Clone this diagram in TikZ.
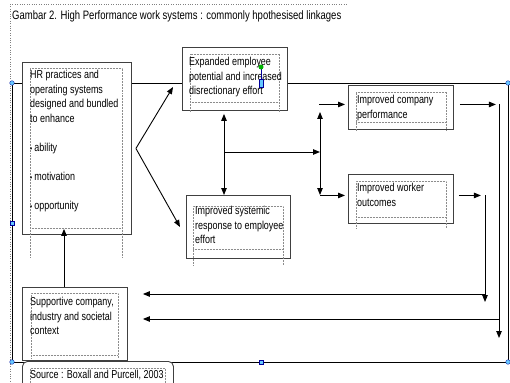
\documentclass[tikz,border=0pt]{standalone}
\usepackage{fontspec}
\setmainfont{Liberation Sans}[FakeStretch=0.78]
\usetikzlibrary{arrows.meta,positioning}

\tikzset{
	boxframe/.style={draw=black!75, line width=0.9pt, fill=white, inner sep=0pt, anchor=north west},
	innerbox/.style={draw=black!45, densely dotted, line width=0.5pt},
	txt/.style={anchor=north west, inner sep=0pt, align=left, font=\fontsize{11.5}{14.5}\selectfont},
	link/.style={line width=0.9pt, -{Triangle[length=7pt,width=5.5pt]}},
	twolink/.style={line width=0.9pt, {Triangle[length=7pt,width=5.5pt]}-{Triangle[length=7pt,width=5.5pt]}},
	wire/.style={line width=0.9pt},
	handle/.style={fill=blue!35!cyan!60!white, draw=blue!60!black, line width=0.3pt},
}
\newcommand{\bul}{{\fontsize{8}{8}\selectfont •}\,}

\begin{document}
\begin{tikzpicture}[x=1pt, y=-1pt]
	\useasboundingbox (0,0) rectangle (510,382);
	% page guides and title
	\draw[black!50, dotted] (10,4) -- (347,4);
	\draw[black!50, dotted] (10,4) -- (10,382);
	\node[anchor=west, inner sep=0pt, font=\fontsize{12.2}{14}\selectfont] (title) at (12,16) {Gambar 2. High Performance work systems : commonly hpothesised linkages};

	% group outline
	\draw[line width=0.9pt] (12,83) rectangle (508,362);

	% boxes
	\node[boxframe, minimum width=109pt, minimum height=172pt] (hr) at (22,62) {};
	\node[boxframe, minimum width=105pt, minimum height=63pt] (exp) at (182,47) {};
	\node[boxframe, minimum width=104pt, minimum height=63pt] (sys) at (186,195) {};
	\node[boxframe, minimum width=105pt, minimum height=44pt] (comp) at (348,85) {};
	\node[boxframe, minimum width=105pt, minimum height=49pt] (work) at (348,174) {};
	\node[boxframe, minimum width=105pt, minimum height=73pt] (sup) at (22,287) {};
	\node[boxframe, rounded corners=5pt, minimum width=151pt, minimum height=35pt] (src) at (22,361) {};

	% dotted text frames
	\foreach \a/\b/\c/\d/\e in {30/68/122/228/257, 190/54/279/102/112, 193/206/283/249/265,
		356/92/446/122/131, 356/181/446/217/228, 31/293/118/355/358, 30/368/165/390/390}
	{
		\draw[innerbox] (\a,\e) -- (\a,\b) -- (\c,\b) -- (\c,\e);
		\draw[innerbox] (\a,\d) -- (\c,\d);
	}

	% texts
	\node[txt] (hrtxt) at (30,70) {HR practices and\\operating systems\\designed and bundled\\to enhance\\[14.5pt]
		\bul ability\\[14.5pt]\bul motivation\\[14.5pt]\bul opportunity};
	\node[txt] (exptxt) at (189,57) {Expanded employee\\potential and increased\\disrectionary effort};
	\node[txt] (systxt) at (195,206) {Improved systemic\\response to employee\\effort};
	\node[txt] (comptxt) at (357,95) {Improved company\\performance};
	\node[txt] (worktxt) at (357,183) {Improved worker\\outcomes};
	\node[txt] (suptxt) at (30,297) {Supportive company,\\industry and societal\\context};
	\node[txt] (srctxt) at (30,370) {Source : Boxall and Purcell, 2003};

	% linkages
	\draw[link] ([xshift=4pt]hr.east) -- ([shift={(-9,40)}]exp.north west);
	\draw[link] ([xshift=4pt]hr.east) -- ([shift={(-6,32)}]sys.north west);
	\draw[twolink] ([shift={(42,3)}]exp.south west) -- ([shift={(38,0)}]sys.north west);
	\coordinate (split) at (224,152);
	\coordinate (forkt) at (320,112);
	\coordinate (forkb) at (320,195);
	\draw[link] (split) -- (forkt |- split);
	\draw[twolink] (forkt) -- (forkb);
	\draw[link] ([shift={(-29,-3)}]comp.west) -- ([shift={(-3,-3)}]comp.west);
	\draw[link] ([shift={(-28,-3.5)}]work.west) -- ([shift={(-3,-3.5)}]work.west);

	% feedback to context
	\draw[link] ([shift={(6,-3)}]comp.east) -- ++(36,0);
	\draw[link] ([shift={(5,-3.5)}]work.east) -- ++(22,0);
	\coordinate (backa) at (499,104);
	\coordinate (backb) at (485,195);
	\draw[link] (backa) -- (499,338);
	\draw[link] (backb) -- (485,302);
	\draw[link] (499,319) -- ([shift={(15,32)}]sup.north east);
	\draw[link] (485,294) -- ([shift={(15,7)}]sup.north east);
	\draw[link] ([xshift=42pt]sup.north west) -- ([shift={(42,-6)}]hr.south west);

	% selection handles
	\foreach \hx/\hy in {12/83, 508/83, 12/362, 508/362}
		\draw[handle] (\hx,\hy) circle (2.3pt);
	\foreach \hx/\hy in {12/223, 261/362}
		\draw[handle] (\hx-2.3,\hy-2.3) rectangle (\hx+2.3,\hy+2.3);
	\draw[blue!60!black, line width=0.4pt] (261,67) -- (261,80);
	\draw[handle] (259,79) rectangle (263,87);
	\fill[green!70!black] (261,67) circle (2.5pt);
\end{tikzpicture}
\end{document}
